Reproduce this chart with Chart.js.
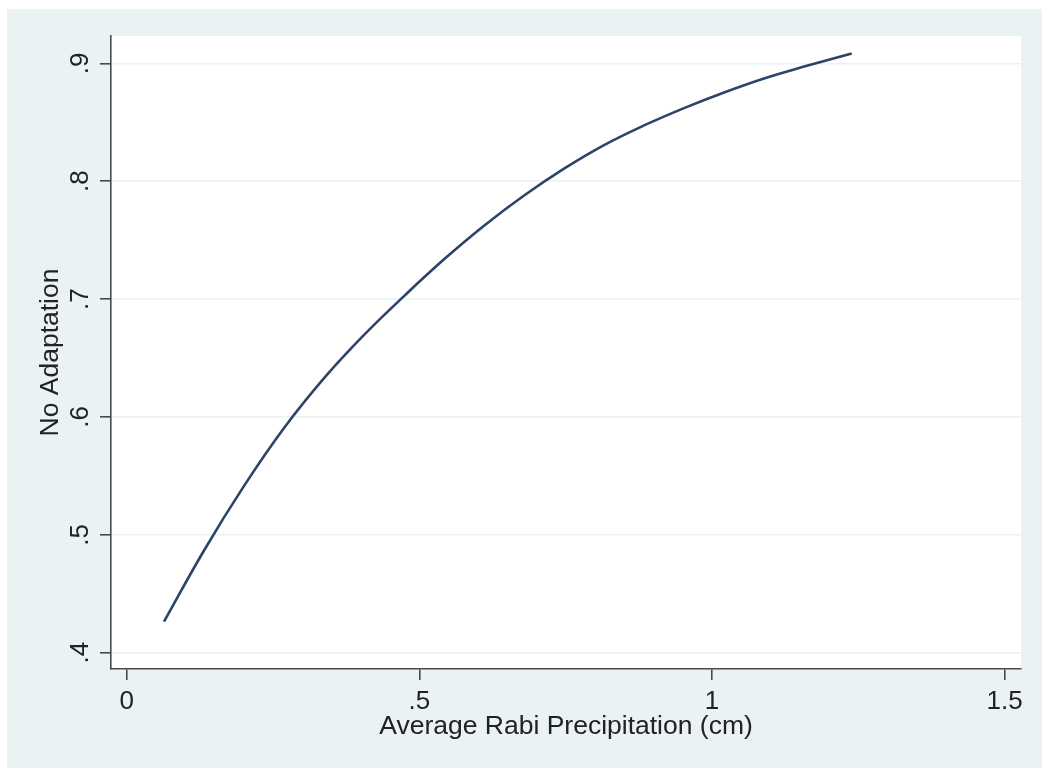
<!DOCTYPE html>
<html>
<head>
<meta charset="utf-8">
<script src="https://cdn.jsdelivr.net/npm/chart.js@4/dist/chart.umd.min.js"></script>
<style>
  html, body { margin: 0; padding: 0; background: #ffffff; }
  #c { display: block; }
</style>
</head>
<body>
<canvas id="c" width="1042" height="768"></canvas>
<script>
// ---- data ----
const precipitation = [0.0637, 0.1321, 0.2005, 0.2688, 0.3372, 0.4055, 0.4738, 0.5422, 0.6105, 0.6789, 0.7472, 0.8156, 0.8839, 0.9522, 1.0206, 1.0889, 1.1573, 1.2387];
const noAdaptation  = [0.4263, 0.4867, 0.5415, 0.5906, 0.6329, 0.6696, 0.7025, 0.7337, 0.7622, 0.7878, 0.8106, 0.8306, 0.8473, 0.8620, 0.8753, 0.8872, 0.8972, 0.9084];

const xTickValues = [0, 0.5, 1, 1.5];
const xTickLabels = ['0', '.5', '1', '1.5'];
const yTickValues = [0.4, 0.5, 0.6, 0.7, 0.8, 0.9];
const yTickLabels = ['.4', '.5', '.6', '.7', '.8', '.9'];

const xTitle = 'Average Rabi Precipitation (cm)';
const yTitle = 'No Adaptation';

// ---- styling ----
const BG = '#eaf2f3';
const FONT = 'Liberation Sans, Arial, Helvetica, sans-serif';
const TEXT = '#222222';
const AXIS = '#4a4a4a';

const points = precipitation.map((x, i) => ({ x: x, y: noAdaptation[i] }));

const backgroundPlugin = {
  id: 'bg',
  beforeDraw(chart) {
    const ctx = chart.ctx;
    const a = chart.chartArea;
    ctx.save();
    ctx.fillStyle = '#ffffff';
    ctx.fillRect(0, 0, chart.width, chart.height);
    ctx.fillStyle = BG;
    ctx.fillRect(7, 9, chart.width - 7, chart.height - 9);
    ctx.fillStyle = '#ffffff';
    ctx.fillRect(a.left, a.top, a.right - a.left, a.bottom - a.top);
    ctx.restore();
  }
};

const yLabelPlugin = {
  id: 'yLabels',
  afterDraw(chart) {
    const ctx = chart.ctx;
    const ys = chart.scales.y;
    ctx.save();
    ctx.fillStyle = TEXT;
    ctx.font = '26px ' + FONT;
    ctx.textAlign = 'center';
    ctx.textBaseline = 'alphabetic';
    yTickValues.forEach((v, i) => {
      const py = ys.getPixelForValue(v);
      ctx.save();
      ctx.translate(88, py);
      ctx.rotate(-Math.PI / 2);
      ctx.fillText(yTickLabels[i], 0, 0);
      ctx.restore();
    });
    ctx.restore();
  }
};

new Chart(document.getElementById('c'), {
  type: 'line',
  data: {
    datasets: [{
      data: points,
      borderColor: '#2c4468',
      borderWidth: 2.6,
      pointRadius: 0,
      fill: false,
      tension: 0.4
    }]
  },
  options: {
    responsive: false,
    animation: false,
    devicePixelRatio: 1,
    layout: { padding: { left: 0, top: 36, right: 21, bottom: 0 } },
    plugins: { legend: { display: false }, tooltip: { enabled: false } },
    scales: {
      x: {
        type: 'linear',
        min: -0.02682,
        max: 1.5279,
        afterFit: (s) => { s.height = 99; },
        afterBuildTicks: (s) => { s.ticks = xTickValues.map(v => ({ value: v })); },
        border: { display: true, color: AXIS, width: 1.6 },
        grid: { drawOnChartArea: false, drawTicks: true, tickLength: 11, tickColor: AXIS, lineWidth: 1.6 },
        ticks: {
          color: TEXT,
          font: { family: FONT, size: 26 },
          padding: 6,
          maxRotation: 0,
          minRotation: 0,
          autoSkip: false,
          callback: (v) => { const i = xTickValues.indexOf(v); return i >= 0 ? xTickLabels[i] : ''; }
        },
        title: {
          display: true,
          text: xTitle,
          color: TEXT,
          font: { family: FONT, size: 26.5 },
          padding: { top: 0, bottom: 25 }
        }
      },
      y: {
        type: 'linear',
        min: 0.38617,
        max: 0.92316,
        afterFit: (s) => { s.width = 111; },
        afterBuildTicks: (s) => { s.ticks = yTickValues.map(v => ({ value: v })); },
        border: { display: true, color: AXIS, width: 1.6 },
        grid: { drawOnChartArea: true, color: BG, lineWidth: 1.6, drawTicks: true, tickLength: 11, tickColor: AXIS },
        ticks: { display: false },
        title: {
          display: true,
          text: yTitle,
          color: TEXT,
          font: { family: FONT, size: 26.5 },
          padding: { top: 35, bottom: 0 }
        }
      }
    }
  },
  plugins: [backgroundPlugin, yLabelPlugin]
});
</script>
</body>
</html>
